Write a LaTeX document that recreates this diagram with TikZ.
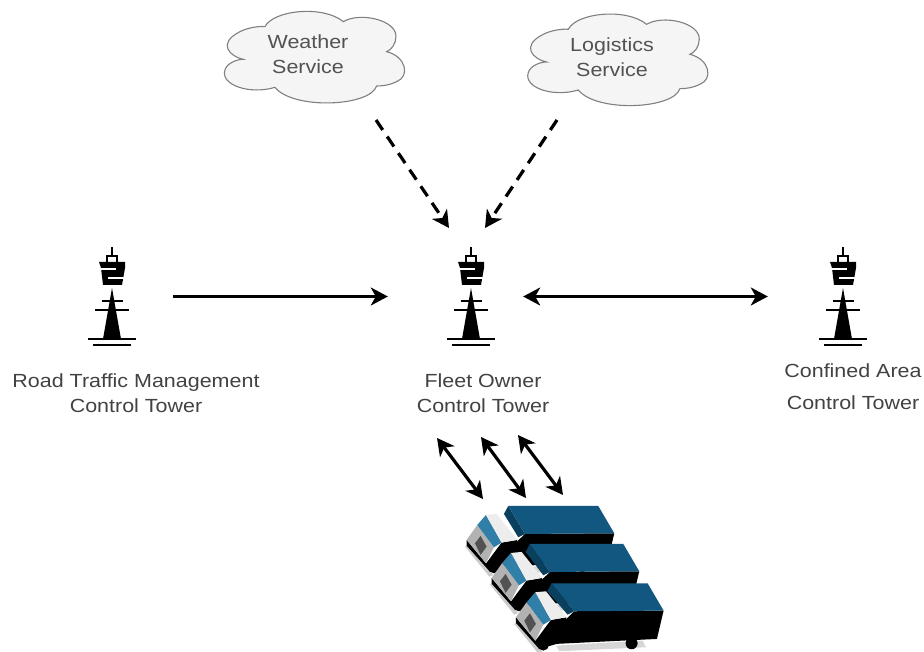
\documentclass[tikz,border=0pt]{standalone}
\usepackage{fontspec}
\setmainfont[FakeStretch=1.13]{Liberation Sans}
\usetikzlibrary{arrows.meta}
\definecolor{truckblue}{HTML}{11577F}
\definecolor{truckside}{HTML}{0B3F5E}
\definecolor{screenblue}{HTML}{2F7FA8}
\tikzset{
  tip/.tip={Stealth[length=17pt,width=18pt,inset=5pt]},
  lab/.style={font=\fontsize{19}{25}\selectfont,text=black!74,align=center,inner sep=0pt},
  cloudlab/.style={font=\fontsize{19}{25}\selectfont,text=black!68,align=center,inner sep=0pt},
  solidarrow/.style={line width=3.2pt,tip-tip},
  onearrow/.style={line width=3.2pt,-tip},
  dasharrow/.style={line width=3.2pt,dash pattern=on 12pt off 8pt,-tip},
  anchorpt/.style={inner sep=0pt,minimum size=0pt},
}
\newcommand{\towerat}[2]{%
  \begin{scope}[shift={(#1,#2)}]
    \draw[line width=2.4pt] (0,-1) -- (0,8);
    \draw[line width=2.4pt] (-5,8) rectangle (5,15);
    \fill (-13,14) -- (13,14) -- (13,20) -- (10,37) -- (-9,37) -- (-11,20) -- cycle;
    \fill[white] (-11,20.5) rectangle (4,22.5);
    \fill[white] (-4,29) rectangle (12,31.5);
    \fill (0,40) -- (9,91) -- (-9,91) -- cycle;
    \draw[line width=1.9pt] (-10.5,53) -- (10.5,53);
    \draw[line width=1.9pt] (-17,62) -- (17,62);
    \draw[line width=2.2pt] (-24,91) -- (24,91);
    \draw[line width=2.2pt] (-19,97) -- (19,97);
  \end{scope}}
\newcommand{\cloudat}[2]{%
  \begin{scope}[x=0.3333pt,y=-0.3333pt,shift={(#1,#2)}]
    \draw[line width=1.1pt,draw=black!50,fill=black!4]
      (100,178) .. controls (60,170) and (20,130) .. (90,95)
      .. controls (115,82) and (150,78) .. (165,80)
      .. controls (190,30) and (340,15) .. (400,65)
      .. controls (450,35) and (560,60) .. (558,110)
      .. controls (558,130) and (545,150) .. (530,155)
      .. controls (590,170) and (600,230) .. (560,245)
      .. controls (540,255) and (520,258) .. (500,258)
      .. controls (480,320) and (250,330) .. (195,262)
      .. controls (120,285) and (30,255) .. (45,210)
      .. controls (50,190) and (80,178) .. (100,178) -- cycle;
  \end{scope}}
\newcommand{\truckat}[3]{%
  \begin{scope}[x=0.3333pt,y=-0.3333pt,shift={(1290+#1,1290+#2)}]
    % ground shadows
    \fill[black!20] (105,350) -- (115,345) -- (190,435) -- (178,440) -- cycle;
    \fill[black!16] (230,415) -- (490,400) -- (500,420) -- (240,432) -- cycle;
    % trailer body
    \fill (285,312) -- (553,310) -- (533,395) -- (228,410) -- (258,338) -- cycle;
    \fill (457,408) circle (18);
    % trailer side and top
    \fill[truckside] (235+#3,228) -- (222+#3,252) -- (265,322) -- (285,312) -- cycle;
    \fill[truckblue] (235+#3,228) -- (505,228) -- (553,310) -- (285,312) -- cycle;
    % cab lower side
    \fill (215,338) -- (262,330) -- (258,345) -- (232,410) -- (180,425) -- (165,405) -- cycle;
    \fill (192,413) circle (17);
    % cab front
    \fill (110,330) -- (168,400) -- (180,425) -- (110,347) -- cycle;
    \fill[black!30] (110,330) -- (142,285) -- (192,352) -- (168,400) -- cycle;
    \fill[black!68] (135,340) -- (152,318) -- (170,350) -- (152,375) -- cycle;
    % windscreen and roof
    \fill[screenblue] (142,285) -- (168,255) -- (215,338) -- (192,352) -- cycle;
    \fill[black!7] (168,255) -- (200,252) -- (262,330) -- (215,338) -- cycle;
  \end{scope}}
\begin{document}
\begin{tikzpicture}[x=1pt,y=-1pt]
  \useasboundingbox (0,0) rectangle (924,652);
  \fill[white] (0,0) rectangle (924,652);

  % clouds
  \cloudat{630}{0}
  \cloudat{1540}{8}
  \node[cloudlab] (weather) at (308,54.5) {Weather\\Service};
  \node[cloudlab] (logistics) at (612,57.5) {Logistics\\Service};

  % towers
  \towerat{112}{248}
  \towerat{471}{248}
  \towerat{843}{248}
  \node[anchorpt] (towerL) at (112,296.5) {};
  \node[anchorpt] (towerC) at (471,296.5) {};
  \node[anchorpt] (towerR) at (843,296.5) {};
  \node[lab] (labL) at (136,393.5) {Road Traffic Management\\Control Tower};
  \node[lab] (labC) at (483,393.5) {Fleet Owner\\Control Tower};
  \node[lab] (labR) at (853,387) {Confined Area\\[7pt]Control Tower};

  % connectors between towers
  \draw[onearrow,shorten <=61pt,shorten >=83pt] (towerL) -- (towerC);
  \draw[solidarrow,shorten <=52pt,shorten >=75pt] (towerC) -- (towerR);

  % service links
  \coordinate (wOut) at (376,120);
  \coordinate (wIn) at (449,228);
  \coordinate (lOut) at (557,120);
  \coordinate (lIn) at (485,228);
  \draw[dasharrow] (wOut) -- (wIn);
  \draw[dasharrow] (lOut) -- (lIn);

  % trucks
  \truckat{0}{0}{0}
  \truckat{75}{114}{-10}
  \truckat{148}{232}{-18}

  % truck links
  \coordinate (a1) at (437,438);
  \coordinate (a2) at (483,499);
  \coordinate (b1) at (481,437);
  \coordinate (b2) at (526,498);
  \coordinate (c1) at (518,435);
  \coordinate (c2) at (563,495);
  \draw[solidarrow] (a1) -- (a2);
  \draw[solidarrow] (b1) -- (b2);
  \draw[solidarrow] (c1) -- (c2);
\end{tikzpicture}
\end{document}
